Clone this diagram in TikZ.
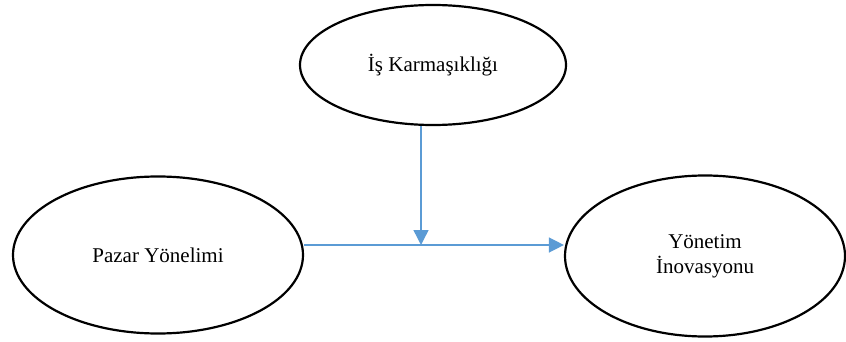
\documentclass[tikz,border=0pt]{standalone}
\usepackage{fontspec}
\setmainfont{Liberation Serif}
\usetikzlibrary{arrows.meta, positioning, shapes.geometric}
\definecolor{linkblue}{HTML}{5B9BD5}

\begin{document}
\begin{tikzpicture}[x=1pt, y=-1pt,
  varnode/.style={ellipse, draw=black, line width=2.2pt, inner sep=0pt,
    font=\fontsize{21}{25}\selectfont, align=center},
  link/.style={linkblue, line width=1.4pt, -{Triangle[length=15pt, width=15pt]}}]

% Canvas
\useasboundingbox (0,0) rectangle (846,342);

% Variables
\node[varnode, minimum width=266pt, minimum height=120pt] (karma) at (433,65) {İş Karmaşıklığı};
\node[varnode, minimum width=290pt, minimum height=157pt] (pazar) at (158,255) {Pazar Yönelimi};
\node[varnode, minimum width=280pt, minimum height=161pt] (yonetim) at (705,256) {Yönetim\\İnovasyonu};

% Moderation point
\coordinate (join) at (421,245);

% Connectors
\draw[link] (pazar.east |- join) -- (yonetim.west |- join);
\draw[link] (karma.south -| join) -- (join);

\end{tikzpicture}
\end{document}
